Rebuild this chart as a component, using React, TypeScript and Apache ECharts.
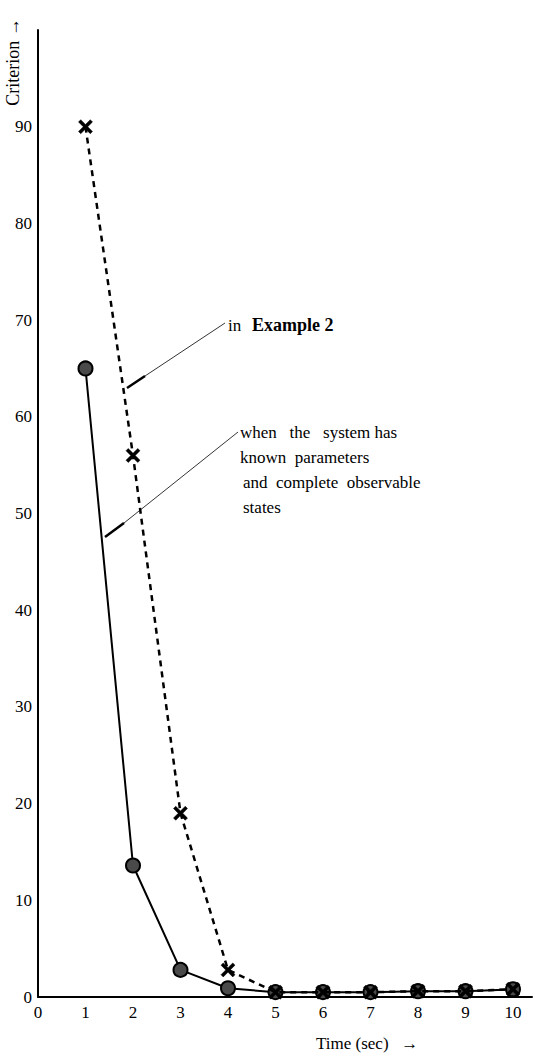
import React, { useEffect, useRef } from "react";
import * as echarts from "echarts";

const timeSteps = [1, 2, 3, 4, 5, 6, 7, 8, 9, 10];
const knownParams = [65, 13.6, 2.8, 0.9, 0.5, 0.5, 0.5, 0.6, 0.6, 0.8];
const example2 = [90, 56, 19, 2.8, 0.5, 0.5, 0.5, 0.6, 0.6, 0.8];
const yLabelMax = 90;
const xLabelMax = 10;

const crossSymbol =
  "path://M0,1.6 L1.6,0 L5,3.4 L8.4,0 L10,1.6 L6.6,5 L10,8.4 L8.4,10 L5,6.6 L1.6,10 L0,8.4 L3.4,5 Z";

const serif = "Liberation Serif";

export default function App() {
  const ref = useRef<HTMLDivElement>(null);
  useEffect(() => {
    if (!ref.current) return;
    const chart = echarts.init(ref.current, null, { renderer: "svg" });
    const toPairs = (vals: number[]) => timeSteps.map((t, i) => [t, vals[i]]);
    chart.setOption({
      animation: false,
      backgroundColor: "#fff",
      grid: { left: 38, right: 0, top: 30, bottom: 60, containLabel: false },
      xAxis: {
        type: "value",
        min: 0,
        max: 10.4,
        interval: 1,
        axisLine: { show: true, lineStyle: { color: "#000", width: 2 } },
        axisTick: { show: false },
        splitLine: { show: false },
        axisLabel: {
          color: "#000",
          fontFamily: serif,
          fontSize: 17,
          margin: 7,
          formatter: (v: number) =>
            Number.isInteger(v) && v <= xLabelMax ? String(v) : "",
        },
      },
      yAxis: {
        type: "value",
        min: 0,
        max: 100,
        interval: 10,
        axisLine: { show: true, lineStyle: { color: "#000", width: 2 } },
        axisTick: { show: false },
        splitLine: { show: false },
        axisLabel: {
          color: "#000",
          fontFamily: serif,
          fontSize: 17,
          margin: 6,
          formatter: (v: number) => (v <= yLabelMax ? String(v) : ""),
        },
      },
      series: [
        {
          name: "when the system has known parameters and complete observable states",
          type: "line",
          data: toPairs(knownParams),
          lineStyle: { color: "#000", width: 2 },
          symbol: "circle",
          symbolSize: 14,
          itemStyle: { color: "#4a4a4a", borderColor: "#000", borderWidth: 2 },
          z: 3,
        },
        {
          name: "in Example 2",
          type: "line",
          data: toPairs(example2),
          lineStyle: { color: "#000", width: 2.5, type: [6, 5] },
          symbol: crossSymbol,
          symbolSize: 14,
          itemStyle: { color: "#000", borderColor: "#000", borderWidth: 0.5 },
          z: 4,
        },
      ],
      graphic: [
        {
          type: "text",
          x: 13,
          y: 62,
          rotation: Math.PI / 2,
          style: {
            text: "Criterion →",
            fontFamily: serif,
            fontSize: 18,
            fill: "#000",
            align: "center",
            verticalAlign: "middle",
          },
        },
        {
          type: "text",
          x: 316,
          y: 1043,
          style: {
            text: "Time (sec)   →",
            fontFamily: serif,
            fontSize: 17,
            fill: "#000",
            align: "left",
            verticalAlign: "middle",
          },
        },
        // leader for "in Example 2"
        {
          type: "line",
          shape: { x1: 127, y1: 388, x2: 145, y2: 376 },
          style: { stroke: "#000", lineWidth: 2.5 },
        },
        {
          type: "line",
          shape: { x1: 145, y1: 376, x2: 225, y2: 323 },
          style: { stroke: "#000", lineWidth: 0.8 },
        },
        {
          type: "text",
          x: 228,
          y: 325,
          style: {
            text: "in",
            fontFamily: serif,
            fontSize: 17,
            fill: "#000",
            align: "left",
            verticalAlign: "middle",
          },
        },
        {
          type: "text",
          x: 252,
          y: 325,
          style: {
            text: "Example 2",
            fontFamily: serif,
            fontSize: 18,
            fontWeight: "bold",
            fill: "#000",
            align: "left",
            verticalAlign: "middle",
          },
        },
        // leader for known parameters
        {
          type: "line",
          shape: { x1: 105, y1: 537, x2: 124, y2: 523 },
          style: { stroke: "#000", lineWidth: 2.5 },
        },
        {
          type: "line",
          shape: { x1: 124, y1: 523, x2: 238, y2: 432 },
          style: { stroke: "#000", lineWidth: 0.8 },
        },
        ...[
          ["when   the   system has", 240, 432],
          ["known  parameters", 240, 457],
          ["and  complete  observable", 243, 482],
          ["states", 243, 507],
        ].map(([t, x, y]) => ({
          type: "text",
          x: x as number,
          y: y as number,
          style: {
            text: t as string,
            fontFamily: serif,
            fontSize: 17,
            fill: "#000",
            align: "left",
            verticalAlign: "middle",
          },
        })),
      ],
    });
    return () => chart.dispose();
  }, []);
  return (
    <div
      ref={ref}
      style={{ position: "fixed", left: 0, top: 0, width: 535, height: 1057 }}
    />
  );
}
